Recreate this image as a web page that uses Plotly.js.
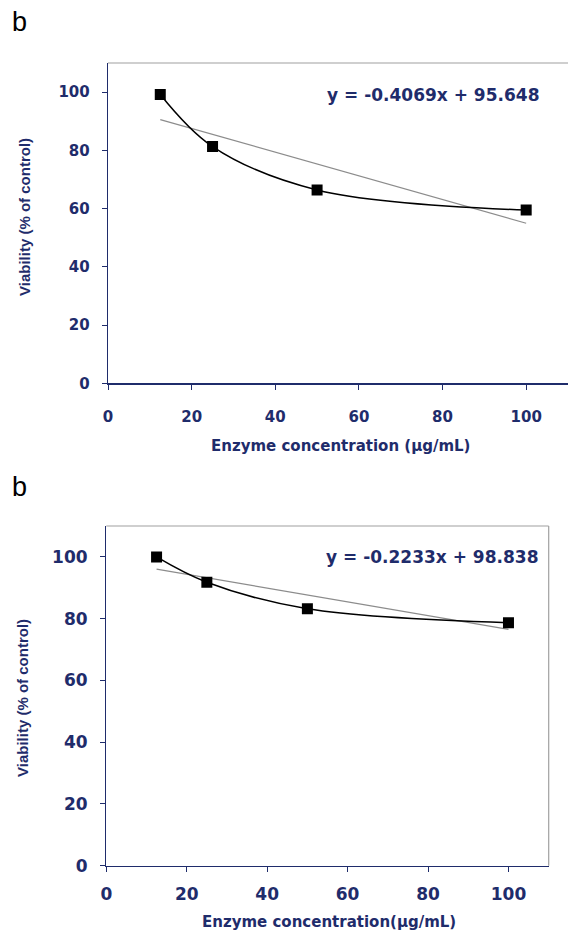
<!DOCTYPE html>
<html>
<head>
<meta charset="utf-8">
<script src="https://cdn.plot.ly/plotly-3.0.1.min.js"></script>
<style>html,body{margin:0;padding:0;background:#fff;}#chart{width:568px;height:932px;}</style>
</head>
<body>
<div id="chart"></div>
<script>
// ---- data ----
const concentration = [12.5, 25, 50, 100];
const viabilityTop = [99.2, 81.3, 66.4, 59.5];
const viabilityBottom = [100, 91.8, 83.2, 78.7];
const trendTop = {slope: -0.4069, intercept: 95.648};
const trendBottom = {slope: -0.2233, intercept: 98.838};
const equationTop = "y = -0.4069x + 95.648";
const equationBottom = "y = -0.2233x + 98.838";
const xTickVals = [0, 20, 40, 60, 80, 100];
const yTickVals = [0, 20, 40, 60, 80, 100];
const panelLabel = "b";
const yTitle = "Viability (% of control)";
const xTitleTop = "Enzyme concentration (µg/mL)";
const xTitleBottom = "Enzyme concentration(µg/mL)";

// ---- styling ----
const W = 568, H = 932;
const navy = "#1f2c6b";
const gray = "#a0a0a0";
const px = x => x / W;
const py = y => 1 - y / H;
const tickFontFamily = "DejaVu Sans, Verdana, sans-serif";

const trendX = [Math.min(...concentration), Math.max(...concentration)];
const trendLine = t => trendX.map(x => t.slope * x + t.intercept);

function dataTrace(y, xa, ya) {
  return {x: concentration, y: y, xaxis: xa, yaxis: ya, type: "scatter", mode: "lines+markers",
    line: {color: "#000", width: 1.5, shape: "spline", smoothing: 1},
    marker: {symbol: "square", size: 11, color: "#000"}, showlegend: false, hoverinfo: "x+y"};
}
function trendTrace(t, xa, ya) {
  return {x: trendX, y: trendLine(t), xaxis: xa, yaxis: ya, type: "scatter", mode: "lines",
    line: {color: "#8c8c8c", width: 1.2}, showlegend: false, hoverinfo: "skip"};
}

const traces = [
  trendTrace(trendTop, "x", "y"),
  dataTrace(viabilityTop, "x", "y"),
  trendTrace(trendBottom, "x2", "y2"),
  dataTrace(viabilityBottom, "x2", "y2")
];

function xAxis(domain, anchor, fs, so) {
  return {domain: domain, anchor: anchor, range: [0, 110], tickvals: xTickVals, ticks: "outside",
    ticklen: 5, tickwidth: 1, tickcolor: navy, showline: true, linecolor: navy, linewidth: 1.3,
    showgrid: false, zeroline: false, ticklabelstandoff: so,
    tickfont: {family: tickFontFamily, size: fs, color: navy, weight: "bold"}};
}
function yAxis(domain, anchor, fs, so) {
  return {domain: domain, anchor: anchor, range: [0, 110], tickvals: yTickVals, ticks: "outside",
    ticklen: 5, tickwidth: 1, tickcolor: navy, showline: true, linecolor: navy, linewidth: 1.3,
    showgrid: false, zeroline: false, ticklabelstandoff: so,
    tickfont: {family: tickFontFamily, size: fs, color: navy, weight: "bold"}};
}

const topL = 108, topR = 568, topT = 63, topB = 383.3;
const botL = 106.3, botR = 548.7, botT = 526, botB = 865.7;

const layout = {
  width: W, height: H,
  margin: {l: 0, r: 0, t: 0, b: 0, pad: 0},
  paper_bgcolor: "#fff", plot_bgcolor: "#fff",
  showlegend: false,
  xaxis: xAxis([px(topL), px(topR)], "y", 15, 14),
  yaxis: yAxis([py(topB), py(topT)], "x", 15, 9),
  xaxis2: xAxis([px(botL), px(botR)], "y2", 17, 8),
  yaxis2: yAxis([py(botB), py(botT)], "x2", 17, 9),
  shapes: [
    {type: "line", xref: "paper", yref: "paper", x0: px(topL), x1: px(topR), y0: py(topT), y1: py(topT), line: {color: gray, width: 1.2}},
    {type: "line", xref: "paper", yref: "paper", x0: px(botL), x1: px(botR), y0: py(botT), y1: py(botT), line: {color: gray, width: 1.2}},
    {type: "line", xref: "paper", yref: "paper", x0: px(botR), x1: px(botR), y0: py(botT), y1: py(botB), line: {color: gray, width: 1.2}}
  ],
  annotations: [
    {text: panelLabel, xref: "paper", yref: "paper", x: px(10), y: py(22), xanchor: "left", yanchor: "middle", showarrow: false,
      font: {family: "Liberation Sans, Arial, sans-serif", size: 27, color: "#000"}},
    {text: panelLabel, xref: "paper", yref: "paper", x: px(10), y: py(487), xanchor: "left", yanchor: "middle", showarrow: false,
      font: {family: "Liberation Sans, Arial, sans-serif", size: 27, color: "#000"}},
    {text: equationTop, xref: "paper", yref: "paper", x: px(541), y: py(95), xanchor: "right", yanchor: "middle", showarrow: false,
      font: {family: tickFontFamily, size: 17, color: navy, weight: "bold"}},
    {text: equationBottom, xref: "paper", yref: "paper", x: px(540), y: py(557), xanchor: "right", yanchor: "middle", showarrow: false,
      font: {family: tickFontFamily, size: 17, color: navy, weight: "bold"}},
    {text: yTitle, xref: "paper", yref: "paper", x: px(24), y: py(217), xanchor: "center", yanchor: "middle", textangle: -90, showarrow: false,
      font: {family: "Liberation Sans, Arial, sans-serif", size: 15, color: navy, weight: "bold"}},
    {text: yTitle, xref: "paper", yref: "paper", x: px(22), y: py(698), xanchor: "center", yanchor: "middle", textangle: -90, showarrow: false,
      font: {family: "Liberation Sans, Arial, sans-serif", size: 15, color: navy, weight: "bold"}},
    {text: xTitleTop, xref: "paper", yref: "paper", x: px(340), y: py(446), xanchor: "center", yanchor: "middle", showarrow: false,
      font: {family: tickFontFamily, size: 15, color: navy, weight: "bold"}},
    {text: xTitleBottom, xref: "paper", yref: "paper", x: px(329), y: py(922), xanchor: "center", yanchor: "middle", showarrow: false,
      font: {family: tickFontFamily, size: 15, color: navy, weight: "bold"}}
  ]
};

Plotly.newPlot("chart", traces, layout, {staticPlot: true, displayModeBar: false});
</script>
</body>
</html>
